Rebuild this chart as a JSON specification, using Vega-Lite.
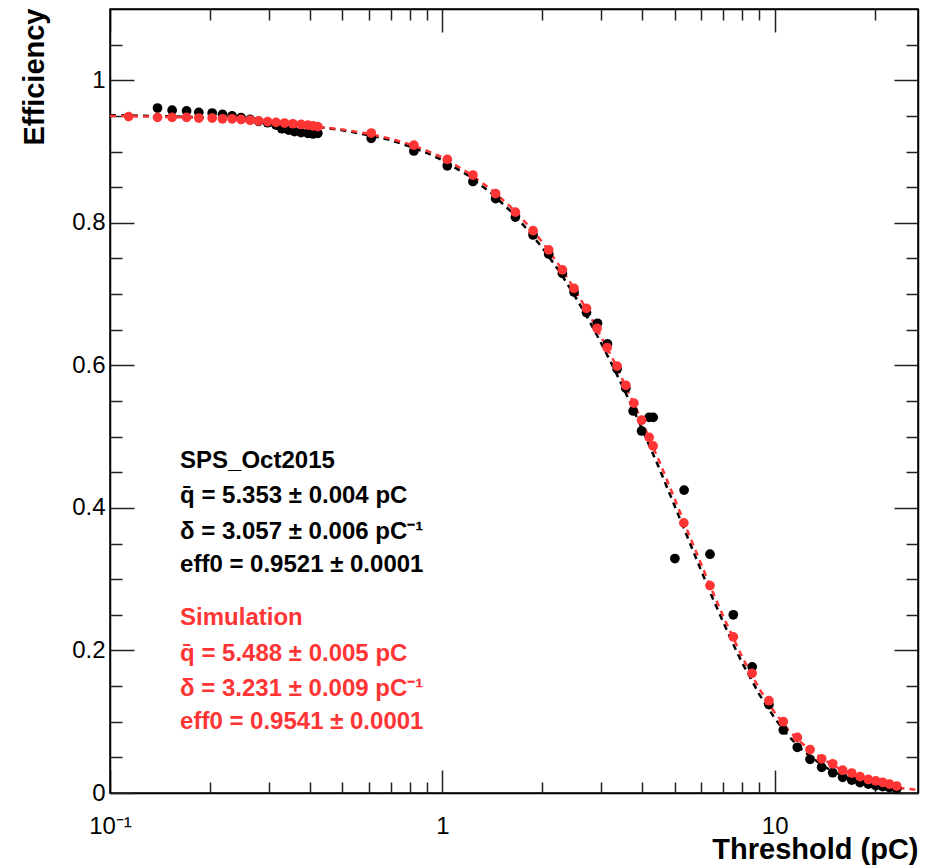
{
  "$schema": "https://vega.github.io/schema/vega-lite/v6.json",
  "width": 808,
  "height": 784,
  "autosize": {"type": "none"},
  "padding": {"left": 110, "top": 9, "right": 15, "bottom": 72},
  "background": "white",
  "config": {
    "view": {"stroke": "black", "strokeWidth": 1.5},
    "axis": {
      "domainColor": "black", "domainWidth": 1.5,
      "tickColor": "#222", "tickWidth": 1.5,
      "labelFont": "Liberation Sans", "labelFontSize": 24, "labelColor": "black",
      "titleFont": "Liberation Sans", "titleFontSize": 29, "titleFontWeight": "bold", "titleColor": "black",
      "grid": false
    }
  },
  "datasets": {
    "fitData": [
      {"t": 0.1, "eff": 0.951}, {"t": 0.15, "eff": 0.9495}, {"t": 0.2, "eff": 0.9475}, {"t": 0.3, "eff": 0.942},
      {"t": 0.4, "eff": 0.936}, {"t": 0.5, "eff": 0.930}, {"t": 0.6, "eff": 0.923}, {"t": 0.7, "eff": 0.916},
      {"t": 0.8, "eff": 0.907}, {"t": 0.9, "eff": 0.898}, {"t": 1.0, "eff": 0.888}, {"t": 1.2, "eff": 0.866},
      {"t": 1.4, "eff": 0.842}, {"t": 1.6, "eff": 0.817}, {"t": 1.8, "eff": 0.791}, {"t": 2.0, "eff": 0.765},
      {"t": 2.25, "eff": 0.732}, {"t": 2.5, "eff": 0.698}, {"t": 2.75, "eff": 0.665}, {"t": 3.0, "eff": 0.632},
      {"t": 3.25, "eff": 0.600}, {"t": 3.5, "eff": 0.569}, {"t": 3.75, "eff": 0.539}, {"t": 4.0, "eff": 0.510},
      {"t": 4.5, "eff": 0.455}, {"t": 5.0, "eff": 0.403}, {"t": 5.5, "eff": 0.356}, {"t": 6.0, "eff": 0.313},
      {"t": 6.5, "eff": 0.274}, {"t": 7.0, "eff": 0.240}, {"t": 7.5, "eff": 0.209}, {"t": 8.0, "eff": 0.182},
      {"t": 9.0, "eff": 0.138}, {"t": 10.0, "eff": 0.105}, {"t": 11.0, "eff": 0.080}, {"t": 12.0, "eff": 0.062},
      {"t": 13.0, "eff": 0.049}, {"t": 14.0, "eff": 0.038}, {"t": 15.0, "eff": 0.030}, {"t": 16.0, "eff": 0.024},
      {"t": 18.0, "eff": 0.015}, {"t": 20.0, "eff": 0.010}, {"t": 22.0, "eff": 0.007}, {"t": 23.5, "eff": 0.005}
    ],
    "fitSim": [
      {"t": 0.1, "eff": 0.950}, {"t": 0.15, "eff": 0.9485}, {"t": 0.2, "eff": 0.947}, {"t": 0.3, "eff": 0.942},
      {"t": 0.4, "eff": 0.936}, {"t": 0.5, "eff": 0.931}, {"t": 0.6, "eff": 0.925}, {"t": 0.7, "eff": 0.918},
      {"t": 0.8, "eff": 0.910}, {"t": 0.9, "eff": 0.901}, {"t": 1.0, "eff": 0.892}, {"t": 1.2, "eff": 0.870},
      {"t": 1.4, "eff": 0.847}, {"t": 1.6, "eff": 0.823}, {"t": 1.8, "eff": 0.798}, {"t": 2.0, "eff": 0.773},
      {"t": 2.25, "eff": 0.740}, {"t": 2.5, "eff": 0.707}, {"t": 2.75, "eff": 0.674}, {"t": 3.0, "eff": 0.641},
      {"t": 3.25, "eff": 0.610}, {"t": 3.5, "eff": 0.578}, {"t": 3.75, "eff": 0.549}, {"t": 4.0, "eff": 0.520},
      {"t": 4.5, "eff": 0.465}, {"t": 5.0, "eff": 0.413}, {"t": 5.5, "eff": 0.365}, {"t": 6.0, "eff": 0.322},
      {"t": 6.5, "eff": 0.283}, {"t": 7.0, "eff": 0.248}, {"t": 7.5, "eff": 0.218}, {"t": 8.0, "eff": 0.190},
      {"t": 9.0, "eff": 0.146}, {"t": 10.0, "eff": 0.113}, {"t": 11.0, "eff": 0.088}, {"t": 12.0, "eff": 0.071},
      {"t": 13.0, "eff": 0.058}, {"t": 14.0, "eff": 0.047}, {"t": 15.0, "eff": 0.039}, {"t": 16.0, "eff": 0.032},
      {"t": 18.0, "eff": 0.022}, {"t": 20.0, "eff": 0.015}, {"t": 22.0, "eff": 0.011}, {"t": 24.0, "eff": 0.007},
      {"t": 27.0, "eff": 0.004}
    ],
    "pointsData": [
      {"t": 0.139, "eff": 0.961}, {"t": 0.1538, "eff": 0.958}, {"t": 0.170, "eff": 0.957}, {"t": 0.185, "eff": 0.955},
      {"t": 0.203, "eff": 0.954}, {"t": 0.218, "eff": 0.952}, {"t": 0.233, "eff": 0.950}, {"t": 0.248, "eff": 0.9475},
      {"t": 0.264, "eff": 0.945}, {"t": 0.280, "eff": 0.9425}, {"t": 0.298, "eff": 0.9405}, {"t": 0.316, "eff": 0.937},
      {"t": 0.329, "eff": 0.932}, {"t": 0.345, "eff": 0.930}, {"t": 0.359, "eff": 0.928}, {"t": 0.376, "eff": 0.9265},
      {"t": 0.394, "eff": 0.9256}, {"t": 0.408, "eff": 0.9247}, {"t": 0.422, "eff": 0.9256}, {"t": 0.611, "eff": 0.9186},
      {"t": 0.821, "eff": 0.9008}, {"t": 1.035, "eff": 0.880}, {"t": 1.236, "eff": 0.858}, {"t": 1.447, "eff": 0.834},
      {"t": 1.659, "eff": 0.808}, {"t": 1.875, "eff": 0.783}, {"t": 2.090, "eff": 0.756}, {"t": 2.298, "eff": 0.729},
      {"t": 2.491, "eff": 0.703}, {"t": 2.715, "eff": 0.674}, {"t": 2.93, "eff": 0.659}, {"t": 3.14, "eff": 0.630},
      {"t": 3.357, "eff": 0.595}, {"t": 3.565, "eff": 0.568}, {"t": 3.751, "eff": 0.536}, {"t": 3.977, "eff": 0.508},
      {"t": 4.19, "eff": 0.527}, {"t": 4.31, "eff": 0.527}, {"t": 5.01, "eff": 0.329}, {"t": 5.34, "eff": 0.425},
      {"t": 6.39, "eff": 0.335}, {"t": 7.51, "eff": 0.250}, {"t": 8.56, "eff": 0.177}, {"t": 9.61, "eff": 0.124},
      {"t": 10.62, "eff": 0.0884}, {"t": 11.70, "eff": 0.0641}, {"t": 12.78, "eff": 0.0473}, {"t": 13.85, "eff": 0.0361},
      {"t": 14.95, "eff": 0.0285}, {"t": 16.02, "eff": 0.022}, {"t": 17.06, "eff": 0.0182}, {"t": 18.07, "eff": 0.0145},
      {"t": 19.14, "eff": 0.0126}, {"t": 20.14, "eff": 0.0103}, {"t": 21.14, "eff": 0.009}, {"t": 22.14, "eff": 0.0075},
      {"t": 23.3, "eff": 0.006}
    ],
    "pointsSim": [
      {"t": 0.1138, "eff": 0.949}, {"t": 0.139, "eff": 0.948}, {"t": 0.1538, "eff": 0.948}, {"t": 0.170, "eff": 0.948},
      {"t": 0.185, "eff": 0.947}, {"t": 0.203, "eff": 0.947}, {"t": 0.218, "eff": 0.946}, {"t": 0.233, "eff": 0.946},
      {"t": 0.248, "eff": 0.945}, {"t": 0.264, "eff": 0.944}, {"t": 0.280, "eff": 0.943}, {"t": 0.298, "eff": 0.942},
      {"t": 0.316, "eff": 0.941}, {"t": 0.335, "eff": 0.940}, {"t": 0.355, "eff": 0.939}, {"t": 0.376, "eff": 0.938},
      {"t": 0.394, "eff": 0.937}, {"t": 0.408, "eff": 0.936}, {"t": 0.422, "eff": 0.935}, {"t": 0.611, "eff": 0.926},
      {"t": 0.821, "eff": 0.909}, {"t": 1.035, "eff": 0.889}, {"t": 1.236, "eff": 0.867}, {"t": 1.447, "eff": 0.841},
      {"t": 1.659, "eff": 0.815}, {"t": 1.875, "eff": 0.789}, {"t": 2.090, "eff": 0.762}, {"t": 2.298, "eff": 0.734},
      {"t": 2.491, "eff": 0.708}, {"t": 2.715, "eff": 0.680}, {"t": 2.922, "eff": 0.652}, {"t": 3.132, "eff": 0.625},
      {"t": 3.357, "eff": 0.599}, {"t": 3.565, "eff": 0.572}, {"t": 3.770, "eff": 0.547}, {"t": 3.977, "eff": 0.523},
      {"t": 4.192, "eff": 0.499}, {"t": 4.309, "eff": 0.487}, {"t": 5.33, "eff": 0.379}, {"t": 6.39, "eff": 0.291},
      {"t": 7.51, "eff": 0.219}, {"t": 8.55, "eff": 0.168}, {"t": 9.61, "eff": 0.1295}, {"t": 10.62, "eff": 0.100},
      {"t": 11.70, "eff": 0.078}, {"t": 12.78, "eff": 0.061}, {"t": 13.85, "eff": 0.048}, {"t": 14.95, "eff": 0.041},
      {"t": 16.02, "eff": 0.032}, {"t": 17.06, "eff": 0.028}, {"t": 18.07, "eff": 0.023}, {"t": 19.14, "eff": 0.019},
      {"t": 20.14, "eff": 0.017}, {"t": 21.14, "eff": 0.015}, {"t": 22.14, "eff": 0.0126}, {"t": 23.3, "eff": 0.0098}
    ],
    "labelsData": [
      {"t": 0.1625, "eff": 0.456, "label": "SPS_Oct2015"},
      {"t": 0.1625, "eff": 0.4069, "label": "q̄ = 5.353 ± 0.004 pC"},
      {"t": 0.1625, "eff": 0.3564, "label": "δ = 3.057  ± 0.006 pC⁻¹"},
      {"t": 0.1625, "eff": 0.3101, "label": "eff0 = 0.9521 ± 0.0001"}
    ],
    "labelsSim": [
      {"t": 0.1625, "eff": 0.2357, "label": "Simulation"},
      {"t": 0.1625, "eff": 0.1852, "label": "q̄ = 5.488  ± 0.005 pC"},
      {"t": 0.1625, "eff": 0.1361, "label": "δ = 3.231 ± 0.009 pC⁻¹"},
      {"t": 0.1625, "eff": 0.0898, "label": "eff0 = 0.9541 ± 0.0001"}
    ]
  },
  "layer": [
    {
      "data": {"name": "fitData"},
      "mark": {"type": "line", "color": "black", "strokeDash": [6, 5], "strokeWidth": 2.5, "clip": true},
      "encoding": {
        "x": {"field": "t", "type": "quantitative",
          "scale": {"type": "log", "domain": [0.1, 27], "nice": false},
          "axis": {"orient": "bottom", "values": [0.1, 1, 10], "tickSize": -23, "labelPadding": 44, "labelFlush": false,
            "labelExpr": "datum.value < 0.5 ? '10⁻¹' : (datum.value < 5 ? '1' : '10')",
            "title": "Threshold (pC)", "titleAnchor": "end", "titleAlign": "right", "titleBaseline": "alphabetic",
            "titleX": 808, "titleY": 65}},
        "y": {"field": "eff", "type": "quantitative",
          "scale": {"domain": [0, 1.1], "nice": false, "zero": false},
          "axis": {"orient": "left", "values": [0, 0.2, 0.4, 0.6, 0.8, 1], "tickSize": -24, "labelPadding": 29, "labelFlush": false,
            "labelExpr": "datum.value == 0 ? '0' : (datum.value == 1 ? '1' : format(datum.value, '.1f'))",
            "title": "Efficiency", "titleAngle": 270, "titleAnchor": "end", "titleAlign": "right", "titleBaseline": "alphabetic",
            "titleX": -67, "titleY": -1}}
      }
    },
    {
      "data": {"name": "fitSim"},
      "mark": {"type": "line", "color": "#ff3535", "strokeDash": [6, 5], "strokeWidth": 2.5, "clip": true},
      "encoding": {
        "x": {"field": "t", "type": "quantitative", "scale": {"type": "log", "domain": [0.1, 27], "nice": false}, "axis": null},
        "y": {"field": "eff", "type": "quantitative", "scale": {"domain": [0, 1.1], "nice": false, "zero": false}, "axis": null}
      }
    },
    {
      "data": {"name": "pointsData"},
      "mark": {"type": "circle", "color": "black", "size": 95, "opacity": 1},
      "encoding": {
        "x": {"field": "t", "type": "quantitative", "scale": {"type": "log", "domain": [0.1, 27], "nice": false}, "axis": null},
        "y": {"field": "eff", "type": "quantitative", "scale": {"domain": [0, 1.1], "nice": false, "zero": false}, "axis": null}
      }
    },
    {
      "data": {"name": "pointsSim"},
      "mark": {"type": "circle", "color": "#ff3535", "size": 95, "opacity": 1},
      "encoding": {
        "x": {"field": "t", "type": "quantitative", "scale": {"type": "log", "domain": [0.1, 27], "nice": false}, "axis": null},
        "y": {"field": "eff", "type": "quantitative", "scale": {"domain": [0, 1.1], "nice": false, "zero": false}, "axis": null}
      }
    },
    {
      "data": {"name": "labelsData"},
      "mark": {"type": "text", "color": "black", "font": "Liberation Sans", "fontWeight": "bold", "fontSize": 24, "align": "left", "baseline": "alphabetic"},
      "encoding": {
        "x": {"field": "t", "type": "quantitative", "scale": {"type": "log", "domain": [0.1, 27], "nice": false}, "axis": null},
        "y": {"field": "eff", "type": "quantitative", "scale": {"domain": [0, 1.1], "nice": false, "zero": false}, "axis": null},
        "text": {"field": "label"}
      }
    },
    {
      "data": {"name": "labelsSim"},
      "mark": {"type": "text", "color": "#ff3535", "font": "Liberation Sans", "fontWeight": "bold", "fontSize": 24, "align": "left", "baseline": "alphabetic"},
      "encoding": {
        "x": {"field": "t", "type": "quantitative", "scale": {"type": "log", "domain": [0.1, 27], "nice": false}, "axis": null},
        "y": {"field": "eff", "type": "quantitative", "scale": {"domain": [0, 1.1], "nice": false, "zero": false}, "axis": null},
        "text": {"field": "label"}
      }
    },
    {
      "data": {"name": "fitSim"},
      "mark": {"type": "point", "opacity": 0},
      "encoding": {
        "x": {"field": "t", "type": "quantitative", "scale": {"type": "log", "domain": [0.1, 27], "nice": false},
          "axis": {"orient": "bottom", "values": [0.2, 0.3, 0.4, 0.5, 0.6, 0.7, 0.8, 0.9, 2, 3, 4, 5, 6, 7, 8, 9, 20], "tickSize": -11, "labels": false, "domain": false, "title": null}},
        "y": {"field": "eff", "type": "quantitative", "scale": {"domain": [0, 1.1], "nice": false, "zero": false},
          "axis": {"orient": "left", "values": [0.05, 0.1, 0.15, 0.25, 0.3, 0.35, 0.45, 0.5, 0.55, 0.65, 0.7, 0.75, 0.85, 0.9, 0.95, 1.05], "tickSize": -12, "labels": false, "domain": false, "title": null}}
      }
    },
    {
      "data": {"name": "fitSim"},
      "mark": {"type": "point", "opacity": 0},
      "encoding": {
        "x": {"field": "t", "type": "quantitative", "scale": {"type": "log", "domain": [0.1, 27], "nice": false},
          "axis": {"orient": "top", "values": [0.1, 1, 10], "tickSize": -23, "labels": false, "title": null}},
        "y": {"field": "eff", "type": "quantitative", "scale": {"domain": [0, 1.1], "nice": false, "zero": false},
          "axis": {"orient": "right", "values": [0, 0.2, 0.4, 0.6, 0.8, 1], "tickSize": -24, "labels": false, "title": null}}
      }
    },
    {
      "data": {"name": "fitSim"},
      "mark": {"type": "point", "opacity": 0},
      "encoding": {
        "x": {"field": "t", "type": "quantitative", "scale": {"type": "log", "domain": [0.1, 27], "nice": false},
          "axis": {"orient": "top", "values": [0.2, 0.3, 0.4, 0.5, 0.6, 0.7, 0.8, 0.9, 2, 3, 4, 5, 6, 7, 8, 9, 20], "tickSize": -11, "labels": false, "domain": false, "title": null}},
        "y": {"field": "eff", "type": "quantitative", "scale": {"domain": [0, 1.1], "nice": false, "zero": false},
          "axis": {"orient": "right", "values": [0.05, 0.1, 0.15, 0.25, 0.3, 0.35, 0.45, 0.5, 0.55, 0.65, 0.7, 0.75, 0.85, 0.9, 0.95, 1.05], "tickSize": -12, "labels": false, "domain": false, "title": null}}
      }
    }
  ],
  "resolve": {"axis": {"x": "independent", "y": "independent"}}
}
